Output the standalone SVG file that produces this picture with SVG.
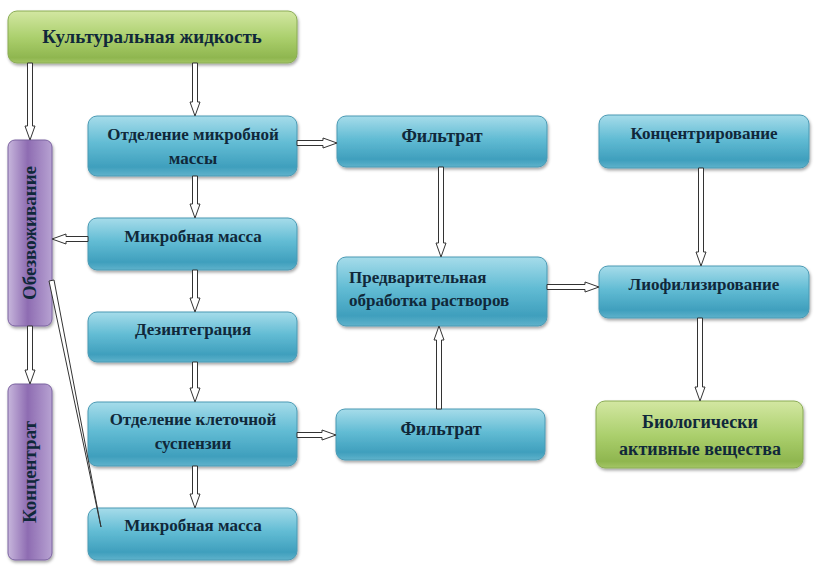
<svg xmlns="http://www.w3.org/2000/svg" width="818" height="571" viewBox="0 0 818 571">
<defs>
<linearGradient id="gBlue" x1="0" y1="0" x2="0" y2="1">
<stop offset="0" stop-color="#a6dcea"/>
<stop offset="0.45" stop-color="#62bcd4"/>
<stop offset="0.85" stop-color="#3f9fbd"/>
<stop offset="1" stop-color="#5fb2cb"/>
</linearGradient>
<linearGradient id="gGreen" x1="0" y1="0" x2="0" y2="1">
<stop offset="0" stop-color="#d3e7a2"/>
<stop offset="0.5" stop-color="#acd06e"/>
<stop offset="0.9" stop-color="#8fb64f"/>
<stop offset="1" stop-color="#a4c665"/>
</linearGradient>
<linearGradient id="gPurple" x1="0" y1="0" x2="1" y2="0">
<stop offset="0" stop-color="#c7b6dc"/>
<stop offset="0.45" stop-color="#8e6cb2"/>
<stop offset="1" stop-color="#b7a2d2"/>
</linearGradient>
<filter id="sh" x="-10%" y="-10%" width="130%" height="140%">
<feDropShadow dx="1" dy="2" stdDeviation="1.5" flood-color="#000" flood-opacity="0.35"/>
</filter>
</defs>
<style>
.b{fill:url(#gBlue);stroke:#4a9ab4;stroke-width:1;filter:url(#sh)}
.g{fill:url(#gGreen);stroke:#8aac55;stroke-width:1;filter:url(#sh)}
.p{fill:url(#gPurple);stroke:#7b62a0;stroke-width:1;filter:url(#sh)}
.a{fill:#fff;stroke:#333;stroke-width:1;stroke-linejoin:miter}
</style>

<g id="n-kult">
<rect class="g" x="8" y="11" width="289" height="52" rx="9"/>
<text x="152" y="43" text-anchor="middle" font-size="19" font-weight="bold" fill="#10283a" style="font-family:'Liberation Serif',serif !important">Культуральная жидкость</text>
</g>
<g id="n-obez">
<rect class="p" x="8" y="140" width="44" height="186" rx="7"/>
<text text-anchor="middle" font-size="19" font-weight="bold" fill="#10283a" style="font-family:'Liberation Serif',serif !important" transform="translate(36,233) rotate(-90)">Обезвоживание</text>
</g>
<g id="n-konc">
<rect class="p" x="8" y="384" width="44" height="176" rx="7"/>
<text text-anchor="middle" font-size="19" font-weight="bold" fill="#10283a" style="font-family:'Liberation Serif',serif !important" transform="translate(36,472) rotate(-90)">Концентрат</text>
</g>
<g id="n-otdm">
<rect class="b" x="88" y="116" width="209" height="60" rx="9"/>
<text x="193" y="140" text-anchor="middle" font-size="17" font-weight="bold" fill="#10283a" style="font-family:'Liberation Serif',serif !important">Отделение микробной</text>
<text x="193" y="164" text-anchor="middle" font-size="17" font-weight="bold" fill="#10283a" style="font-family:'Liberation Serif',serif !important">массы</text>
</g>
<g id="n-mm1">
<rect class="b" x="88" y="218" width="209" height="52" rx="9"/>
<text x="193" y="242" text-anchor="middle" font-size="17" font-weight="bold" fill="#10283a" style="font-family:'Liberation Serif',serif !important">Микробная масса</text>
</g>
<g id="n-dez">
<rect class="b" x="88" y="312" width="209" height="50" rx="9"/>
<text x="193" y="335" text-anchor="middle" font-size="17" font-weight="bold" fill="#10283a" style="font-family:'Liberation Serif',serif !important">Дезинтеграция</text>
</g>
<g id="n-otdk">
<rect class="b" x="88" y="402" width="209" height="64" rx="9"/>
<text x="193" y="425" text-anchor="middle" font-size="17" font-weight="bold" fill="#10283a" style="font-family:'Liberation Serif',serif !important">Отделение клеточной</text>
<text x="193" y="449" text-anchor="middle" font-size="17" font-weight="bold" fill="#10283a" style="font-family:'Liberation Serif',serif !important">суспензии</text>
</g>
<g id="n-mm2">
<rect class="b" x="88" y="508" width="209" height="52" rx="9"/>
<text x="193" y="531" text-anchor="middle" font-size="17" font-weight="bold" fill="#10283a" style="font-family:'Liberation Serif',serif !important">Микробная масса</text>
</g>
<g id="n-filt1">
<rect class="b" x="337" y="116" width="210" height="51" rx="9"/>
<text x="442" y="142" text-anchor="middle" font-size="18" font-weight="bold" fill="#10283a" style="font-family:'Liberation Serif',serif !important">Фильтрат</text>
</g>
<g id="n-pred">
<rect class="b" x="337" y="257" width="210" height="69" rx="9"/>
<text x="349" y="283" font-size="17" font-weight="bold" fill="#10283a" style="font-family:'Liberation Serif',serif !important">Предварительная</text>
<text x="349" y="306" font-size="17" font-weight="bold" fill="#10283a" style="font-family:'Liberation Serif',serif !important">обработка растворов</text>
</g>
<g id="n-filt2">
<rect class="b" x="336" y="409" width="209" height="51" rx="9"/>
<text x="441" y="435" text-anchor="middle" font-size="18" font-weight="bold" fill="#10283a" style="font-family:'Liberation Serif',serif !important">Фильтрат</text>
</g>
<g id="n-konctr">
<rect class="b" x="599" y="115" width="210" height="53" rx="9"/>
<text x="704" y="139" text-anchor="middle" font-size="17" font-weight="bold" fill="#10283a" style="font-family:'Liberation Serif',serif !important">Концентрирование</text>
</g>
<g id="n-liof">
<rect class="b" x="599" y="266" width="210" height="52" rx="9"/>
<text x="704" y="290" text-anchor="middle" font-size="17" font-weight="bold" fill="#10283a" style="font-family:'Liberation Serif',serif !important">Лиофилизирование</text>
</g>
<g id="n-bio">
<rect class="g" x="596" y="401" width="207" height="67" rx="9"/>
<text x="700" y="428" text-anchor="middle" font-size="18" font-weight="bold" fill="#10283a" style="font-family:'Liberation Serif',serif !important">Биологически</text>
<text x="700" y="455" text-anchor="middle" font-size="18" font-weight="bold" fill="#10283a" style="font-family:'Liberation Serif',serif !important">активные вещества</text>
</g>

<g id="connectors">
<polygon class="a" points="27.5,63 32.5,63 32.5,126 35,126 30,140 25,126 27.5,126"/>
<polygon class="a" points="192.5,63 197.5,63 197.5,102 200,102 195,116 190,102 192.5,102"/>
<polygon class="a" points="192.5,176 197.5,176 197.5,204 200,204 195,218 190,204 192.5,204"/>
<polygon class="a" points="88,236.5 88,241.5 66,241.5 66,244 52,239 66,234 66,236.5"/>
<polygon class="a" points="192.5,270 197.5,270 197.5,298 200,298 195,312 190,298 192.5,298"/>
<polygon class="a" points="192.5,362 197.5,362 197.5,388 200,388 195,402 190,388 192.5,388"/>
<polygon class="a" points="192.5,466 197.5,466 197.5,494 200,494 195,508 190,494 192.5,494"/>
<polygon class="a" points="27.5,326 32.5,326 32.5,370 35,370 30,384 25,370 27.5,370"/>
<polygon class="a" points="297,140.5 297,145.5 323,145.5 323,148 337,143 323,138 323,140.5"/>
<polygon class="a" points="438.5,167 443.5,167 443.5,243 446,243 441,257 436,243 438.5,243"/>
<polygon class="a" points="436.5,409 441.5,409 441.5,340 444,340 439,326 434,340 436.5,340"/>
<polygon class="a" points="297,432.5 297,437.5 322,437.5 322,440 336,435 322,430 322,432.5"/>
<polygon class="a" points="547,284.5 547,289.5 585,289.5 585,292 599,287 585,282 585,284.5"/>
<polygon class="a" points="698.5,168 703.5,168 703.5,252 706,252 701,266 696,252 698.5,252"/>
<polygon class="a" points="697.5,318 702.5,318 702.5,387 705,387 700,401 695,387 697.5,387"/>
<polygon class="a" points="49,281 54,280 101,527"/>
</g>
</svg>
